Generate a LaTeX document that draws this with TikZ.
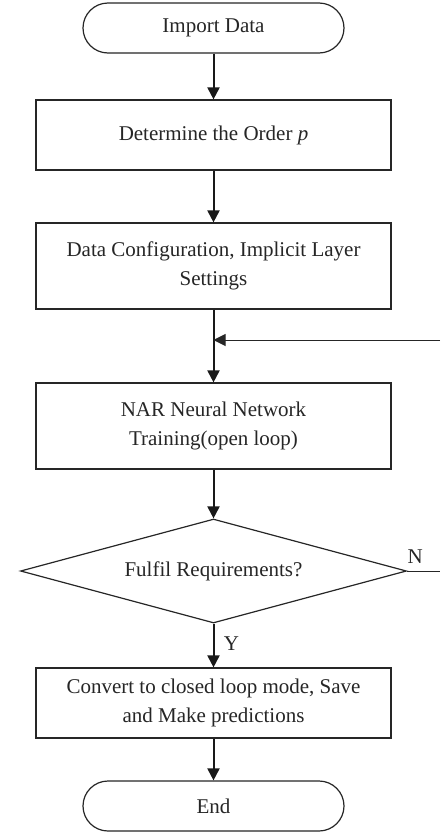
\documentclass[tikz,border=0pt]{standalone}
\usepackage{fontspec}
\setmainfont{Liberation Serif}
\usetikzlibrary{arrows.meta,shapes.geometric}
\begin{document}
\begin{tikzpicture}[x=1pt,y=-1pt,
  every node/.style={font=\fontsize{21}{29}\selectfont, text=black!85},
  procbox/.style={draw=black!85, line width=1.2pt, minimum width=355pt, inner sep=0pt, align=center, fill=white},
  termbox/.style={draw=black!85, line width=1.2pt, minimum width=261pt, minimum height=50pt, rounded corners=25pt, inner sep=0pt, fill=white},
  decbox/.style={draw=black!85, line width=1.2pt, diamond, minimum width=386pt, minimum height=104pt, inner sep=0pt, aspect=3.7, fill=white},
  flow/.style={draw=black!90, line width=2pt, -{Triangle[length=12pt,width=12pt]}},
  thin/.style={draw=black!85, line width=1pt}]
\useasboundingbox (0,0) rectangle (440,833);
\node[termbox] (start) at (213.5,28) {Import Data};
\node[procbox, minimum height=70pt] (order) at (213.5,135) {Determine the Order \textit{p}};
\node[procbox, minimum height=86pt] (config) at (213.5,266) {Data Configuration, Implicit Layer\\Settings};
\node[procbox, minimum height=86pt] (train) at (213.5,426) {NAR Neural Network\\Training(open loop)};
\node[decbox] (check) at (213.5,571) {Fulfil Requirements?};
\node[procbox, minimum height=70pt] (conv) at (213.5,703) {Convert to closed loop mode, Save\\and Make predictions};
\node[termbox] (end) at (213.5,806) {End};
\coordinate (join) at (213.5,340);
\coordinate (rin) at (440,340);
\coordinate (rout) at (440,571);
\draw[flow] (start) -- (order);
\draw[flow] (order) -- (config);
\draw[line width=2pt, draw=black!90] (config.south) -- (join);
\draw[flow] (join) -- (train);
\draw[flow] (train) -- (check);
\draw[flow] (check) -- node[right=6pt, pos=0.45] (ylab) {Y} (conv);
\draw[flow] (conv) -- (end);
\draw[thin] (check.east) -- node[above=4pt, pos=0.25] (nlab) {N} (rout);
\draw[thin, -{Triangle[length=12pt,width=12pt]}] (rin) -- (join);
\end{tikzpicture}
\end{document}
